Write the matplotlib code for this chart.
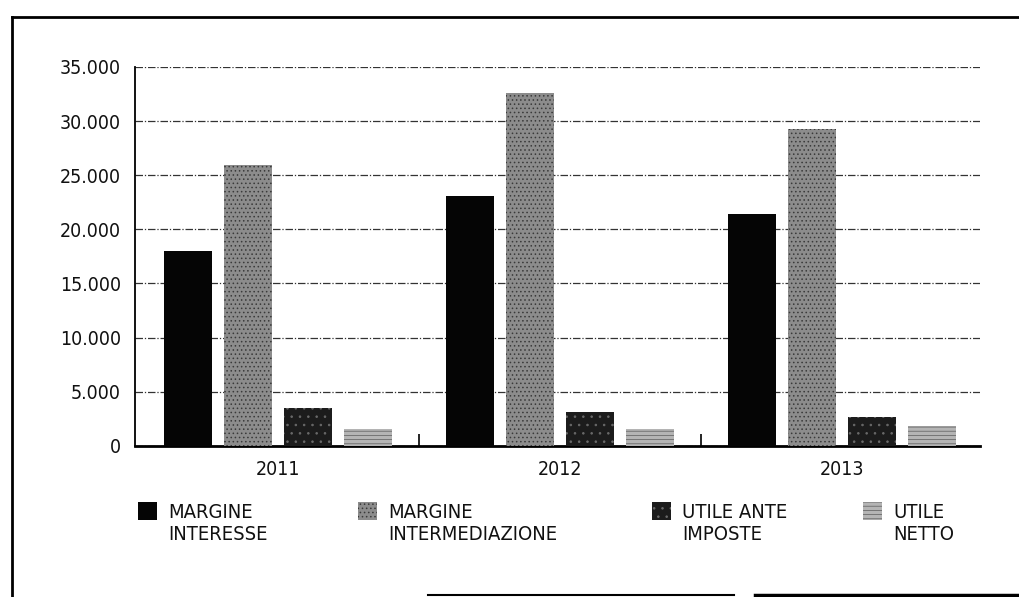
import matplotlib
matplotlib.use("Agg")
import matplotlib.pyplot as plt
from matplotlib.lines import Line2D
from matplotlib.ticker import FuncFormatter, FixedLocator
import numpy as np

plt.rcParams['font.family'] = ['DejaVu Sans']
plt.rcParams['hatch.linewidth'] = 0.6

years = ["2011", "2012", "2013"]
series = ["MARGINE\nINTERESSE", "MARGINE\nINTERMEDIAZIONE", "UTILE ANTE\nIMPOSTE", "UTILE\nNETTO"]
margine_interesse = [18000, 23100, 21400]
margine_intermediazione = [25900, 32600, 29300]
utile_ante_imposte = [3500, 3150, 2700]
utile_netto = [1550, 1600, 1850]
values = [margine_interesse, margine_intermediazione, utile_ante_imposte, utile_netto]
yticks = [0, 5000, 10000, 15000, 20000, 25000, 30000, 35000]

faces = ["#050505", "#8c8c8c", "#1c1c1c", "#b4b4b4"]
hatches = [None, "....", "..", "----"]
hatch_cols = ["#050505", "#3a3a3a", "#6a6a6a", "#6a6a6a"]

W, H = 1020, 597
fig = plt.figure(figsize=(W / 100, H / 100), dpi=100)
ax = fig.add_axes([0.132, 0.253, 0.829, 0.635])

x = np.arange(len(years))
step = 0.213
width = 0.17
bars = []
for i, (vals, lab) in enumerate(zip(values, series)):
    pos = x + (i - 1.5) * step
    b = ax.bar(pos, vals, width=width, color=faces[i], edgecolor=hatch_cols[i],
               hatch=hatches[i], linewidth=0, label=lab, zorder=3)
    bars.append(b)

ax.set_xlim(-0.51, 2.49)
ax.set_ylim(0, 35000)
ax.set_yticks(yticks)
ax.yaxis.set_major_formatter(FuncFormatter(lambda v, p: f"{int(v):,}".replace(",", ".")))
ax.set_xticks(x)
ax.set_xticklabels(years)
ax.xaxis.set_minor_locator(FixedLocator([0.5, 1.5]))
ax.tick_params(axis='x', which='major', length=0, pad=10)
ax.tick_params(axis='x', which='minor', length=9, direction='in', width=1.2, color='black')
ax.tick_params(axis='y', length=0, pad=10)
for lbl in ax.get_xticklabels() + ax.get_yticklabels():
    lbl.set_fontsize(14)
    lbl.set_fontstretch('condensed')
    lbl.set_color('#111111')

ax.grid(axis='y', color='#333333', linestyle=(0, (6, 1.5, 1, 1.5)), linewidth=0.9, zorder=0)
for s in ['top', 'right']:
    ax.spines[s].set_visible(False)
ax.spines['left'].set_linewidth(1.3)
ax.spines['bottom'].set_linewidth(2.0)

# legend: one entry per series, handle aligned with the first text line
handle_x = [138, 358, 652, 863]
y1 = 1 - 512 / H
y2 = 1 - 535 / H
legs = []
for i, lab in enumerate(series):
    first, second = lab.split("\n")
    lg = fig.legend(handles=[bars[i]], labels=[first], loc='center left',
                    bbox_to_anchor=(handle_x[i] / W, y1), frameon=False,
                    borderpad=0, borderaxespad=0, handlelength=0.95, handleheight=0.95,
                    handletextpad=0.55, prop={'size': 14.5, 'stretch': 'condensed'})
    lg.get_texts()[0].set_color('#111111')
    legs.append((lg, second))

fig.canvas.draw()
for lg, second in legs:
    bb = lg.get_texts()[0].get_window_extent()
    fig.text(bb.x0 / W, y2, second, ha='left', va='center', fontsize=14.5,
             fontstretch='condensed', color='#111111')

# outer frame of the page
fig.add_artist(Line2D([0.012, 0.012], [0.0, 0.972], transform=fig.transFigure, color='black', lw=2))
fig.add_artist(Line2D([0.012, 1.0], [0.972, 0.972], transform=fig.transFigure, color='black', lw=2))
fig.add_artist(Line2D([0.42, 0.72], [0.004, 0.004], transform=fig.transFigure, color='black', lw=1.5))
fig.add_artist(Line2D([0.74, 1.0], [0.004, 0.004], transform=fig.transFigure, color='black', lw=2.5))

fig.savefig("out.png", dpi=100)
